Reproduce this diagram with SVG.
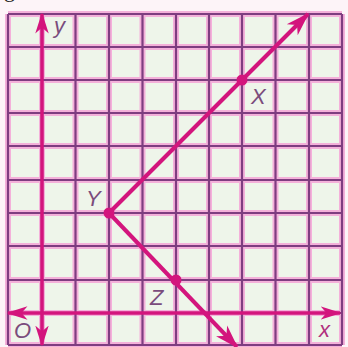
<svg xmlns="http://www.w3.org/2000/svg" width="348" height="347" viewBox="0 0 348 347">
<defs>
<style>
.grid line{stroke:#7e3d80;stroke-width:2.2}
.halo line{stroke:#f4b0da;stroke-width:6}
.ax{stroke:#d3157d;stroke-width:3.5;fill:none}
.ray{stroke:#d3157d;stroke-width:4;fill:none}
.pt{fill:#d3157d}
.lbl{font-family:"Liberation Sans",Arial,sans-serif;font-style:italic;font-size:22px;fill:#7a4c7c}
</style>
<marker id="ah" viewBox="0 0 14 10" refX="13" refY="5" markerWidth="6" markerHeight="4.3" orient="auto" markerUnits="strokeWidth">
<path d="M0,0.5 L14,5 L0,9.5 L4,5 Z" fill="#d3157d"/>
</marker>
</defs>
<rect width="348" height="347" fill="#fdf4f8"/>
<text x="4" y="-3" font-family="Liberation Serif,serif" font-size="22" fill="#222">g</text>
<rect x="8" y="14" width="334" height="331" fill="#eef5ea"/>
<g id="grid">
<g class="halo">
<line x1="8" y1="14" x2="8" y2="345"/><line x1="42" y1="14" x2="42" y2="345"/><line x1="75.5" y1="14" x2="75.5" y2="345"/><line x1="109" y1="14" x2="109" y2="345"/><line x1="142.5" y1="14" x2="142.5" y2="345"/><line x1="176" y1="14" x2="176" y2="345"/><line x1="209" y1="14" x2="209" y2="345"/><line x1="242" y1="14" x2="242" y2="345"/><line x1="275.5" y1="14" x2="275.5" y2="345"/><line x1="309" y1="14" x2="309" y2="345"/><line x1="342" y1="14" x2="342" y2="345"/>
<line x1="8" y1="14" x2="342" y2="14"/><line x1="8" y1="47" x2="342" y2="47"/><line x1="8" y1="80" x2="342" y2="80"/><line x1="8" y1="113" x2="342" y2="113"/><line x1="8" y1="146" x2="342" y2="146"/><line x1="8" y1="180" x2="342" y2="180"/><line x1="8" y1="213" x2="342" y2="213"/><line x1="8" y1="246" x2="342" y2="246"/><line x1="8" y1="280" x2="342" y2="280"/><line x1="8" y1="313" x2="342" y2="313"/><line x1="8" y1="345" x2="342" y2="345"/>
</g>
<g class="grid">
<line x1="8" y1="14" x2="8" y2="345"/><line x1="42" y1="14" x2="42" y2="345"/><line x1="75.5" y1="14" x2="75.5" y2="345"/><line x1="109" y1="14" x2="109" y2="345"/><line x1="142.5" y1="14" x2="142.5" y2="345"/><line x1="176" y1="14" x2="176" y2="345"/><line x1="209" y1="14" x2="209" y2="345"/><line x1="242" y1="14" x2="242" y2="345"/><line x1="275.5" y1="14" x2="275.5" y2="345"/><line x1="309" y1="14" x2="309" y2="345"/><line x1="342" y1="14" x2="342" y2="345"/>
<line x1="8" y1="14" x2="342" y2="14"/><line x1="8" y1="47" x2="342" y2="47"/><line x1="8" y1="80" x2="342" y2="80"/><line x1="8" y1="113" x2="342" y2="113"/><line x1="8" y1="146" x2="342" y2="146"/><line x1="8" y1="180" x2="342" y2="180"/><line x1="8" y1="213" x2="342" y2="213"/><line x1="8" y1="246" x2="342" y2="246"/><line x1="8" y1="280" x2="342" y2="280"/><line x1="8" y1="313" x2="342" y2="313"/><line x1="8" y1="345" x2="342" y2="345"/>
</g>
</g>
<g id="connectors">
<line class="ax" x1="42" y1="313" x2="42" y2="14" marker-end="url(#ah)"/>
<line class="ax" x1="42" y1="313" x2="42" y2="345" marker-end="url(#ah)"/>
<line class="ax" x1="42" y1="313" x2="8" y2="313" marker-end="url(#ah)"/>
<line class="ax" x1="42" y1="313" x2="340" y2="313" marker-end="url(#ah)"/>
<line class="ray" x1="109" y1="213" x2="308" y2="14" marker-end="url(#ah)"/>
<line class="ray" x1="109" y1="213" x2="237" y2="347" marker-end="url(#ah)"/>
</g>
<g id="node-X"><circle class="pt" cx="242" cy="80" r="5.5"/><text class="lbl" x="251" y="104">X</text></g>
<g id="node-Y"><circle class="pt" cx="109" cy="213" r="5.5"/><text class="lbl" x="86" y="206">Y</text></g>
<g id="node-Z"><circle class="pt" cx="176" cy="280" r="5.5"/><text class="lbl" x="150" y="305">Z</text></g>
<g id="node-O"><text class="lbl" x="14" y="338" font-style="normal">O</text></g>
<g id="label-y"><text class="lbl" x="54" y="33">y</text></g>
<g id="label-x"><text class="lbl" x="319" y="337" style="fill:#b0307e">x</text></g>
</svg>
